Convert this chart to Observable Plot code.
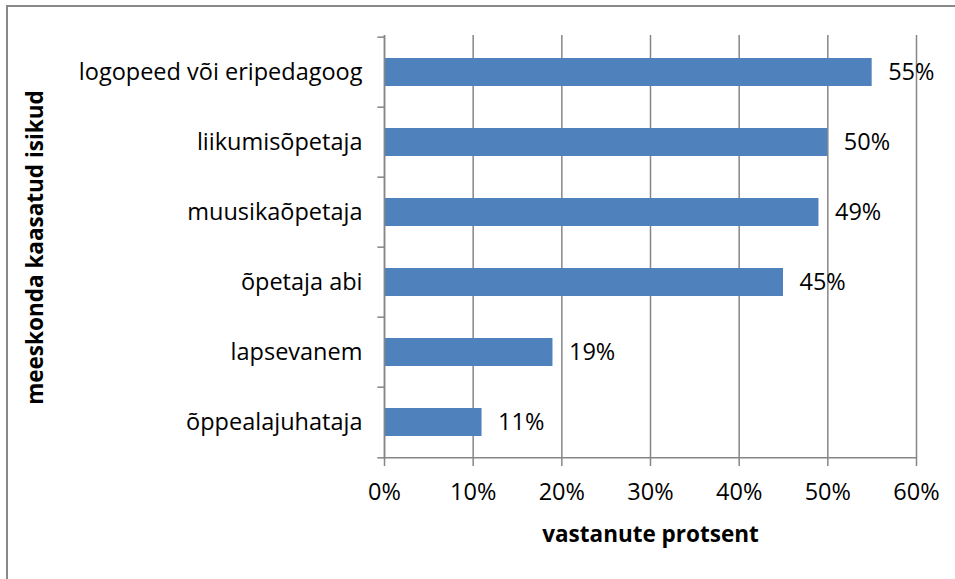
<!DOCTYPE html>
<html><head><meta charset="utf-8">
<script src="https://cdn.jsdelivr.net/npm/d3@7"></script>
<script src="https://cdn.jsdelivr.net/npm/@observablehq/plot@0.6"></script>
<style>
html,body{margin:0;padding:0;background:#fff;overflow:hidden;}
#frame{position:absolute;left:6px;top:5px;width:1000px;height:700px;border:2px solid #898989;box-sizing:border-box;pointer-events:none;}
#chart{position:absolute;left:0;top:0;}
g[aria-label="x-axis label"] text, g[aria-label="y-axis label"] text{font-weight:bold;font-size:22.5px;}
</style></head>
<body><div id="chart"></div><div id="frame"></div>
<script>
const categories = ["logopeed või eripedagoog","liikumisõpetaja","muusikaõpetaja","õpetaja abi","lapsevanem","õppealajuhataja"];
const values = [55, 50, 49, 45, 19, 11];
const xTicks = [0, 10, 20, 30, 40, 50, 60];

const data = categories.map((c, i) => ({cat: c, v: values[i]}));
const W = 955, H = 579, mT = 35, mB = 120, mL = 384, mR = 39;
const step = (H - mT - mB) / categories.length;
const grey = "#868686";
const fs = 23.5;

const chart = Plot.plot({
  width: W, height: H,
  marginTop: mT, marginBottom: mB, marginLeft: mL, marginRight: mR,
  style: {fontFamily: "'Open Sans', sans-serif", fontSize: fs + "px", color: "#000", background: "#fff", overflow: "visible"},
  x: {domain: [0, 60]},
  y: {domain: categories, paddingInner: 0.6, paddingOuter: 0.3},
  marks: [
    Plot.gridX(xTicks, {stroke: grey, strokeOpacity: 1, strokeWidth: 1.5}),
    Plot.barX(data, {x: "v", y: "cat", fill: "#4F81BD"}),
    Plot.ruleX([0], {stroke: grey, strokeWidth: 1.5}),
    Plot.ruleY([categories[categories.length-1]], {x1: 0, x2: 60, stroke: grey, strokeWidth: 1.5, dy: step/2}),
    Plot.ruleY(categories, {y: d => d, x1: -0.75, x2: 0, stroke: grey, strokeWidth: 1.5, dy: -step/2, clip: false}),
    Plot.ruleY([categories[categories.length-1]], {x1: -0.75, x2: 0, stroke: grey, strokeWidth: 1.5, dy: step/2}),
    Plot.text(data, {x: "v", y: "cat", text: d => d.v + "%", textAnchor: "start", dx: 16, fontSize: fs}),
    Plot.axisX(xTicks, {anchor: "bottom", tickSize: 7, stroke: grey, strokeWidth: 1.5, tickPadding: 17, tickFormat: d => d + "%", fontSize: fs, label: "vastanute protsent", labelAnchor: "center", labelArrow: "none", labelOffset: 82}),
    Plot.axisY({anchor: "left", tickSize: 0, tickPadding: 22, fontSize: fs, label: "meeskonda kaasatud isikud", labelAnchor: "center", labelArrow: "none", labelOffset: 357})
  ]
});
document.getElementById("chart").appendChild(chart);
</script></body></html>
